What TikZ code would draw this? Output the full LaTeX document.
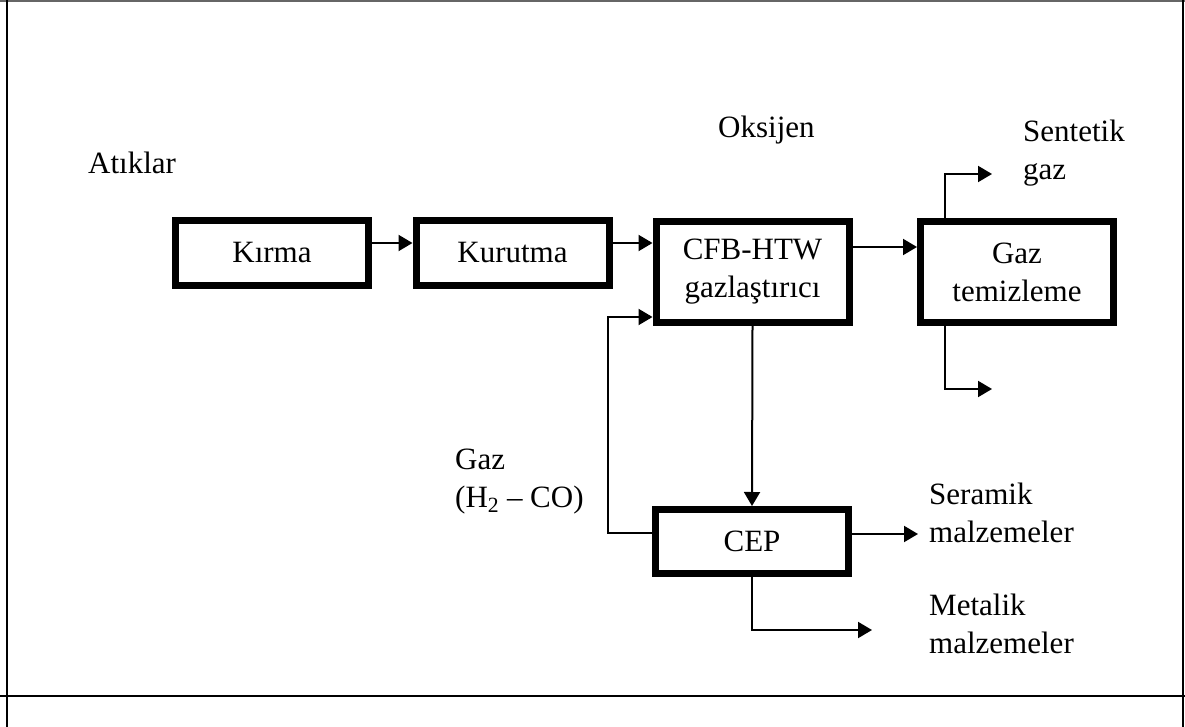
\documentclass[tikz,border=0pt]{standalone}
\usepackage{fontspec}
\setmainfont{Liberation Serif}
\usetikzlibrary{arrows.meta}
\begin{document}
\begin{tikzpicture}[x=1pt,y=-1pt,
  every node/.style={font=\fontsize{31}{38}\selectfont},
  stage/.style={draw,line width=7pt,align=center,inner sep=0pt,
    minimum width=193pt},
  flow/.style={line width=2pt,-{Triangle[length=14pt,width=16pt]}},
  lbl/.style={anchor=base west,inner sep=0pt,align=left},
  frame/.style={line width=2pt}]
\useasboundingbox (0,0) rectangle (1185,727);

% page frame
\draw[line width=1.5pt,black!60] (0,1) -- (1185,1);
\draw[frame] (7,0) -- (7,727);
\draw[frame] (1183,0) -- (1183,727);
\draw[frame] (0,696) -- (1185,696);

% process stages
\node[stage,minimum height=65pt] (kirma) at (272,253) {Kırma};
\node[stage,minimum height=65pt] (kurutma) at (512.5,253) {Kurutma};
\node[stage,minimum height=101pt] (cfb) at (752.5,272) {CFB-HTW\\gazlaştırıcı};
\node[stage,minimum height=101pt] (gt) at (1017,272) {Gaz\\temizleme};
\node[stage,minimum height=64pt] (cep) at (752,541.5) {CEP};

% labels (anchored at the baseline of their last line)
\node[lbl] (atik) at (88,174) {Atıklar};
\node[lbl] (oks) at (718,138) {Oksijen};
\node[lbl] (sent) at (1023,180) {Sentetik\\gaz};
\node[lbl] (gaz) at (455,507) {Gaz\\(H\textsubscript{2} – CO)};
\node[lbl] (ser) at (929,542) {Seramik\\malzemeler};
\node[lbl] (met) at (929,653) {Metalik\\malzemeler};

% free ends and bends
\coordinate (sgtip) at (992,174);
\coordinate (lowtip) at (992,389);
\coordinate (sertip) at (918,534);
\coordinate (mettip) at (872,630);
\coordinate (loop) at (608,317);

% connectors
\draw[flow] ([yshift=10pt]kirma.east) -- ([yshift=10pt]kurutma.west);
\draw[flow] ([yshift=10pt]kurutma.east) -- ([yshift=29pt]cfb.west);
\draw[flow] ([yshift=25pt]cfb.east) -- ([yshift=25pt]gt.west);
\draw[flow] ([xshift=-72pt]gt.north) |- (sgtip);
\draw[flow] ([xshift=-72pt]gt.south) |- (lowtip);
\draw[flow] (cfb.south) -- (cep.north);
\draw[flow] ([yshift=8.5pt]cep.west) -| (loop) -- ([yshift=-45pt]cfb.west);
\draw[flow] ([yshift=7.5pt]cep.east) -- (sertip);
\draw[flow] (cep.south) |- (mettip);
\end{tikzpicture}
\end{document}
